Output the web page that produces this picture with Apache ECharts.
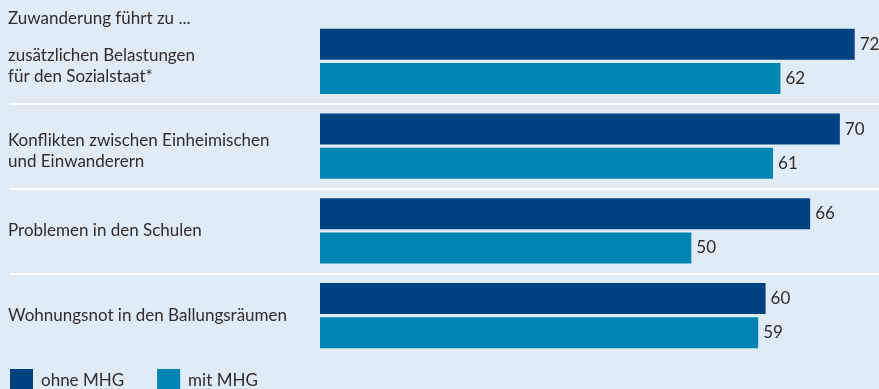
<!DOCTYPE html>
<html>
<head>
<meta charset="utf-8">
<script src="https://cdn.jsdelivr.net/npm/echarts@6/dist/echarts.min.js"></script>
<style>
  html, body { margin: 0; padding: 0; background: #e0ecf5; }
  #chart { width: 879px; height: 389px; }
</style>
</head>
<body>
<div id="chart"></div>
<script>
// Survey statements (top to bottom) and agreement shares in percent
const categories = [
  'zusätzlichen Belastungen\nfür den Sozialstaat*',
  'Konflikten zwischen Einheimischen\nund Einwanderern',
  'Problemen in den Schulen',
  'Wohnungsnot in den Ballungsräumen'
];
const ohneMHG = [72, 70, 66, 60];
const mitMHG = [62, 61, 50, 59];
const seriesNames = ['ohne MHG', 'mit MHG'];
const headline = 'Zuwanderung führt zu ...';

const FONT = 'Lato, "Open Sans", sans-serif';
const FS = 17;
const TEXT = '#2e2e2e';
const DARK = '#004280';
const LIGHT = '#0084b4';

const chart = echarts.init(document.getElementById('chart'), null, { renderer: 'canvas' });

const valueLabel = {
  show: true,
  position: 'right',
  distance: 5,
  color: TEXT,
  fontFamily: FONT,
  fontSize: FS
};

// two-line statements sit a little lower than their bar pair
function statementLabel(value) {
  if (value.indexOf('\n') < 0) return '{t|' + value + '}';
  return '{sp| }\n' + value.split('\n').map(function (s) { return '{t|' + s + '}'; }).join('\n');
}

chart.setOption({
  backgroundColor: '#e0ecf5',
  animation: false,
  textStyle: { fontFamily: FONT },
  title: {
    text: headline,
    left: 3,
    top: 5,
    textStyle: { color: TEXT, fontFamily: FONT, fontSize: FS, fontWeight: 'normal' }
  },
  legend: {
    data: seriesNames,
    left: 10,
    top: 369,
    padding: 0,
    icon: 'rect',
    itemWidth: 23,
    itemHeight: 23,
    itemGap: 33,
    textStyle: { color: TEXT, fontFamily: FONT, fontSize: FS, padding: [0, 0, 0, 3] }
  },
  grid: [
    // bars
    { left: 320, right: 2, top: 19, height: 339 },
    // full-width separators between the statements
    { left: 10, right: 0, top: 19, height: 339 }
  ],
  xAxis: [
    { gridIndex: 0, type: 'value', min: 0, max: 75, show: false },
    { gridIndex: 1, type: 'value', min: 0, max: 1, show: false }
  ],
  yAxis: [
    {
      gridIndex: 0,
      type: 'category',
      data: categories,
      inverse: true,
      axisLine: { show: false },
      axisTick: { show: false },
      splitLine: { show: false },
      axisLabel: {
        align: 'left',
        margin: 312,
        formatter: statementLabel,
        rich: {
          t: { color: TEXT, fontFamily: FONT, fontSize: FS, lineHeight: 21 },
          sp: { fontSize: 4, lineHeight: 9 }
        }
      }
    },
    {
      gridIndex: 1,
      type: 'category',
      data: categories,
      inverse: true,
      axisLine: { show: false },
      axisTick: { show: false },
      axisLabel: { show: false },
      splitLine: {
        show: true,
        showMinLine: false,
        showMaxLine: false,
        lineStyle: { color: '#ffffff', width: 2 }
      }
    }
  ],
  series: [
    {
      name: seriesNames[0],
      type: 'bar',
      xAxisIndex: 0,
      yAxisIndex: 0,
      data: ohneMHG,
      barWidth: 31,
      barGap: '10%',
      itemStyle: { color: DARK },
      label: valueLabel
    },
    {
      name: seriesNames[1],
      type: 'bar',
      xAxisIndex: 0,
      yAxisIndex: 0,
      data: mitMHG,
      barWidth: 31,
      barGap: '10%',
      itemStyle: { color: LIGHT },
      label: valueLabel
    }
  ]
});
</script>
</body>
</html>
